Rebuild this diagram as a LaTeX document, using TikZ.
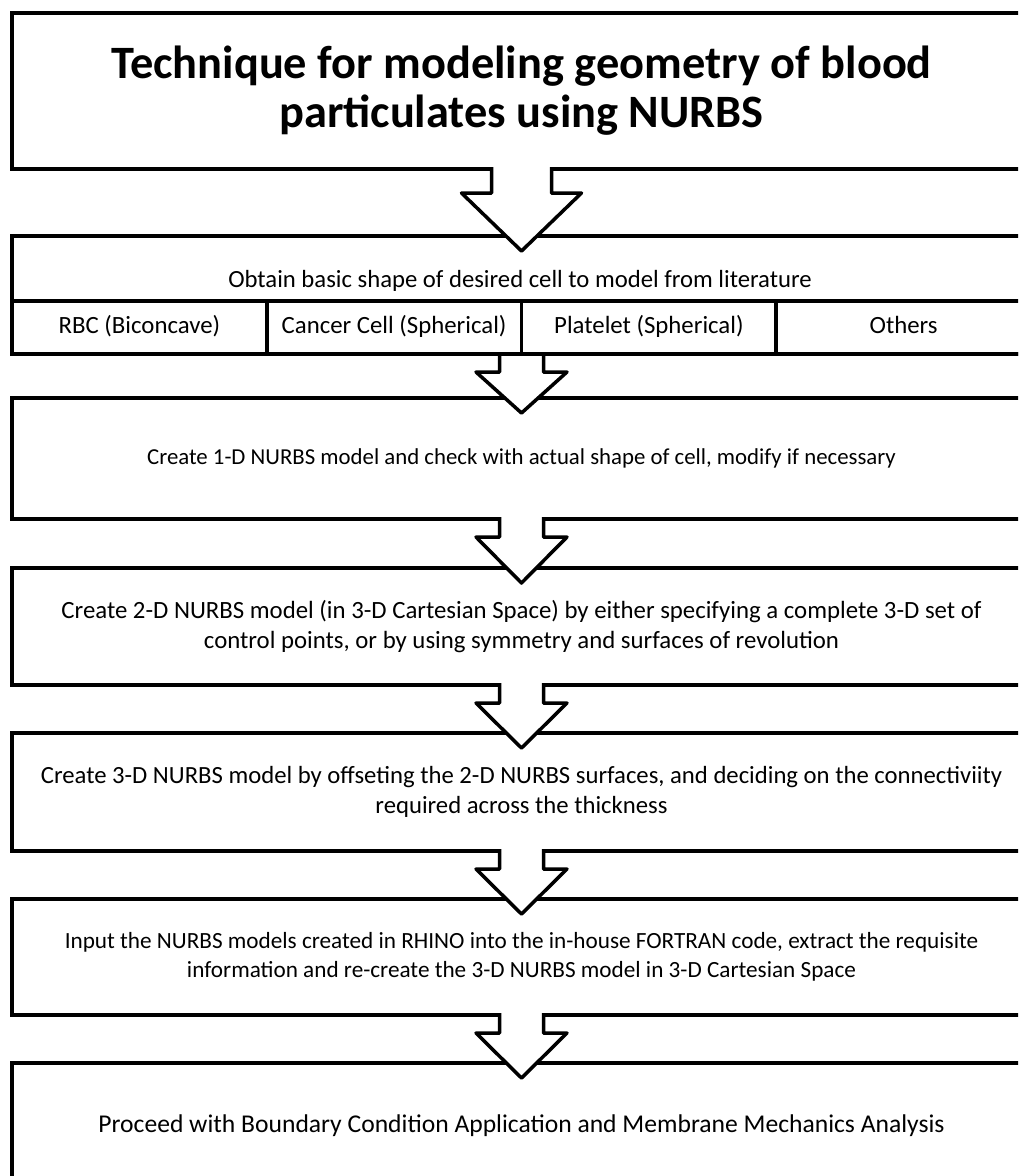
\documentclass[tikz,border=0pt]{standalone}
\usepackage{fontspec}
\setmainfont{Carlito}
\usetikzlibrary{calc}

\tikzset{
  fs/.style 2 args={font=\fontsize{#1}{#2}\selectfont},
  box/.style={draw, line width=4pt, minimum width=1019pt, inner sep=0pt, outer sep=0pt,
    align=center},
  cell/.style={draw, line width=3.5pt, minimum width=254.75pt, minimum height=53pt,
    inner sep=0pt, outer sep=0pt, text height=17pt, text depth=6pt, fs={24.8}{30}},
  plain/.style={inner sep=0pt, fs={24.7}{30}},
  flow/.style={draw=black, fill=white, line width=3.5pt, line join=round},
}

% block arrow: from, to, stem half width, head half width, shoulder drop, stem start
\newcommand{\flowarrow}[6]{%
  \filldraw[flow] ($(#1.south)+(-#3,#6)$) -- ($(#1.south)+(-#3,#5)$)
    -- ($(#1.south)+(-#4,#5)$) -- ($(#2.north)+(0,15)$)
    -- ($(#1.south)+(#4,#5)$) -- ($(#1.south)+(#3,#5)$) -- ($(#1.south)+(#3,#6)$);
}

\begin{document}
\begin{tikzpicture}[x=1pt,y=-1pt]
\clip (0,0) rectangle (1018,1176);

\node[box, minimum height=156pt, font=\bfseries\fontsize{46.4}{49}\selectfont] (title) at (521.5,91)
  {Technique for modeling geometry of blood\\particulates using NURBS};

\node[box, minimum height=118pt] (shape) at (521.5,295) {};
\node[plain, anchor=base] (obtain) at (520,287) {Obtain basic shape of desired cell to model from literature};
\node[cell] (rbc) at (139.4,327.5) {RBC (Biconcave)};
\node[cell] (cancer) at (394.1,327.5) {Cancer Cell (Spherical)};
\node[cell] (platelet) at (648.9,327.5) {Platelet (Spherical)};
\node[cell] (others) at (903.6,327.5) {Others};

\node[box, minimum height=121pt, fs={22.8}{28}] (oned) at (521.5,458.5)
  {Create 1-D NURBS model and check with actual shape of cell, modify if necessary};
\node[box, minimum height=117pt, fs={24.8}{30}] (twod) at (521.5,626.5)
  {Create 2-D NURBS model (in 3-D Cartesian Space) by either specifying a complete 3-D set of\\control points, or by using symmetry and surfaces of revolution};
\node[box, minimum height=118pt, fs={24.7}{30}] (threed) at (521.5,792)
  {Create 3-D NURBS model by offseting the 2-D NURBS surfaces, and deciding on the connectiviity\\required across the thickness};
\node[box, minimum height=116pt, fs={23.2}{29}] (fortran) at (521.5,957)
  {Input the NURBS models created in RHINO into the in-house FORTRAN code, extract the requisite\\information and re-create the 3-D NURBS model in 3-D Cartesian Space};
\node[box, minimum height=126pt, fs={25.6}{30}] (analysis) at (521.5,1126)
  {Proceed with Boundary Condition Application and Membrane Mechanics Analysis};

\flowarrow{title}{shape}{30}{60}{24}{-2}
\flowarrow{shape}{oned}{22}{45.5}{18}{2}
\foreach \a/\b in {oned/twod, twod/threed, threed/fortran, fortran/analysis}
  {\flowarrow{\a}{\b}{22}{45.5}{18}{-2}}
\end{tikzpicture}
\end{document}
